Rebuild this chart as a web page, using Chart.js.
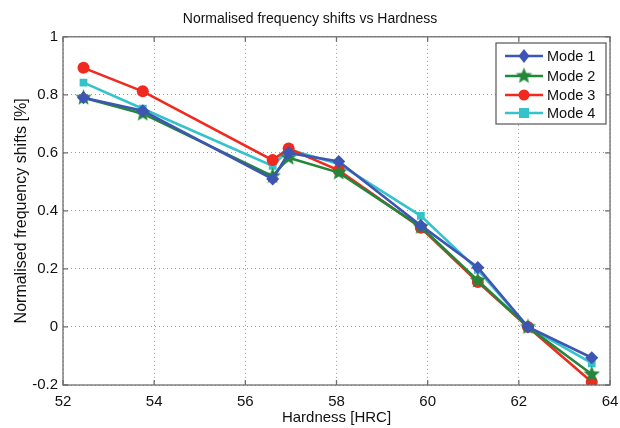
<!DOCTYPE html>
<html>
<head>
<meta charset="utf-8">
<script src="https://cdn.jsdelivr.net/npm/chart.js@4/dist/chart.umd.min.js"></script>
<style>
  html, body { margin: 0; padding: 0; background: #fff; }
  canvas { display: block; }
</style>
</head>
<body>
<canvas id="mychart1" width="620" height="428"></canvas>
<script>
const hardness = [52.45, 53.75, 56.6, 56.95, 58.05, 59.85, 61.1, 62.2, 63.6];
const mode1 = [0.79, 0.745, 0.51, 0.6, 0.57, 0.35, 0.205, 0.0, -0.106];
const mode2 = [0.79, 0.735, 0.52, 0.583, 0.532, 0.345, 0.16, 0.0, -0.163];
const mode3 = [0.893, 0.812, 0.575, 0.615, 0.54, 0.342, 0.155, 0.0, -0.19];
const mode4 = [0.842, 0.752, 0.555, 0.612, 0.562, 0.383, 0.197, 0.0, -0.125];
const xTicks = [52, 54, 56, 58, 60, 62, 64];
const yTicks = [-0.2, 0, 0.2, 0.4, 0.6, 0.8, 1];

const FONT = "'Liberation Sans', Arial, sans-serif";

// filled five point star, Chart.js 'star' is only stroked
function makeStar(color, r) {
  const c = document.createElement("canvas");
  const s = Math.ceil(r * 2 + 2);
  c.width = s; c.height = s;
  const g = c.getContext("2d");
  g.beginPath();
  for (let i = 0; i < 10; i++) {
    const rr = i % 2 === 0 ? r : r * 0.45;
    const a = -Math.PI / 2 + i * Math.PI / 5;
    const px = s / 2 + rr * Math.cos(a), py = s / 2 + rr * Math.sin(a);
    i === 0 ? g.moveTo(px, py) : g.lineTo(px, py);
  }
  g.closePath();
  g.fillStyle = color;
  g.fill();
  return c;
}
const starImg = makeStar("#23873a", 8.5);

const series = [
  { label: "Mode 1", data: mode1, color: "#3d55b3", style: "rectRot", radius: 6.5 },
  { label: "Mode 2", data: mode2, color: "#23873a", style: starImg, radius: 7 },
  { label: "Mode 3", data: mode3, color: "#f02a1e", style: "circle", radius: 6 },
  { label: "Mode 4", data: mode4, color: "#35c3cb", style: "rect", radius: 5.5 },
];

// box, inward ticks and legend, the matlab way
const frame = {
  id: "frame",
  afterDatasetsDraw(chart) {
    const { ctx, chartArea: a, scales } = chart;
    ctx.save();
    ctx.strokeStyle = "#6e6e6e";
    ctx.lineWidth = 1.3;
    ctx.strokeRect(a.left, a.top, a.right - a.left, a.bottom - a.top);
    ctx.beginPath();
    xTicks.forEach(v => {
      const px = scales.x.getPixelForValue(v);
      ctx.moveTo(px, a.bottom); ctx.lineTo(px, a.bottom - 5);
      ctx.moveTo(px, a.top); ctx.lineTo(px, a.top + 5);
    });
    yTicks.forEach(v => {
      const py = scales.y.getPixelForValue(v);
      ctx.moveTo(a.left, py); ctx.lineTo(a.left + 5, py);
      ctx.moveTo(a.right, py); ctx.lineTo(a.right - 5, py);
    });
    ctx.stroke();

    // legend
    const bx = 496, by = 43, bw = 110, bh = 81;
    ctx.fillStyle = "#fff";
    ctx.fillRect(bx, by, bw, bh);
    ctx.strokeStyle = "#555";
    ctx.lineWidth = 1.2;
    ctx.strokeRect(bx, by, bw, bh);
    const rows = [56, 76, 95, 113];
    ctx.font = "14.5px " + FONT;
    ctx.textBaseline = "middle";
    series.forEach((s, i) => {
      const y = rows[i];
      ctx.strokeStyle = s.color;
      ctx.lineWidth = 2.5;
      ctx.beginPath(); ctx.moveTo(505, y); ctx.lineTo(543, y); ctx.stroke();
      ctx.fillStyle = s.color;
      const cx = 524;
      if (s.style === "rectRot") {
        ctx.beginPath();
        ctx.moveTo(cx, y - 7); ctx.lineTo(cx + 5.5, y); ctx.lineTo(cx, y + 7); ctx.lineTo(cx - 5.5, y);
        ctx.closePath(); ctx.fill();
      } else if (s.style === "circle") {
        ctx.beginPath(); ctx.arc(cx, y, 5.5, 0, Math.PI * 2); ctx.fill();
      } else if (s.style === "rect") {
        ctx.fillRect(cx - 5, y - 5, 10, 10);
      } else {
        ctx.drawImage(s.style, cx - s.style.width / 2, y - s.style.height / 2);
      }
      ctx.fillStyle = "#111";
      ctx.fillText(s.label, 547, y + 1);
    });
    ctx.restore();
  },
};

new Chart(document.getElementById("mychart1").getContext("2d"), {
  type: "line",
  data: {
    datasets: series.map(s => ({
      label: s.label,
      data: hardness.map((h, i) => ({ x: h, y: s.data[i] })),
      borderColor: s.color,
      backgroundColor: s.color,
      borderWidth: 2.6,
      pointStyle: s.style,
      pointRadius: s.radius,
      pointBorderWidth: 0,
      tension: 0,
    })),
  },
  options: {
    responsive: false,
    animation: false,
    layout: { padding: { top: 5, right: 0, left: 0, bottom: 0 } },
    plugins: {
      legend: { display: false },
      tooltip: { enabled: false },
      title: {
        display: true,
        text: "Normalised frequency shifts vs Hardness",
        color: "#111",
        font: { family: FONT, size: 14, weight: "normal" },
        padding: { top: 6, bottom: 9 },
      },
    },
    scales: {
      x: {
        type: "linear",
        min: 52,
        max: 64,
        afterBuildTicks: s => { s.ticks = xTicks.map(v => ({ value: v })); },
        afterFit: s => { s.height = 43; s.paddingLeft = 0; s.paddingRight = 10; },
        ticks: { color: "#111", font: { family: FONT, size: 15 }, padding: 8 },
        grid: { color: "#9a9a9a", lineWidth: 1, drawTicks: false },
        border: { display: false, dash: [1, 3] },
        title: {
          display: true,
          text: "Hardness [HRC]",
          color: "#111",
          font: { family: FONT, size: 15 },
          padding: { top: 0, bottom: 1 },
        },
      },
      y: {
        min: -0.2,
        max: 1,
        afterBuildTicks: s => { s.ticks = yTicks.map(v => ({ value: v })); },
        afterFit: s => { s.width = 63; },
        ticks: {
          color: "#111",
          font: { family: FONT, size: 15 },
          padding: 5,
          callback: v => (Math.abs(v) < 1e-9 ? "0" : String(Math.round(v * 10) / 10)),
        },
        grid: { color: "#9a9a9a", lineWidth: 1, drawTicks: false },
        border: { display: false, dash: [1, 3] },
        title: {
          display: true,
          text: "Normalised frequency shifts [%]",
          color: "#111",
          font: { family: FONT, size: 16 },
          padding: { top: 12, bottom: 0 },
        },
      },
    },
  },
  plugins: [frame],
});
</script>
</body>
</html>
